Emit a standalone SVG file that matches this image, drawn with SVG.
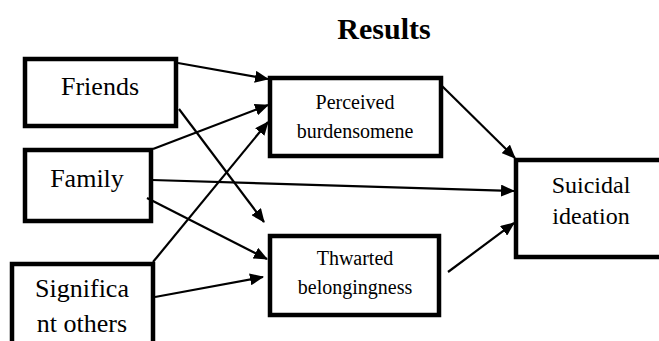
<svg xmlns="http://www.w3.org/2000/svg" width="659" height="341" viewBox="0 0 659 341">
<style>
.box{fill:#fff;stroke:#000;stroke-width:4.5}
.t{font-family:"Liberation Serif","Times New Roman",serif;fill:#000;text-anchor:middle}
.conn line{stroke:#000;stroke-width:2.2;marker-end:url(#ah)}
</style>
<defs>
<marker id="ah" viewBox="0 0 14 12" refX="13" refY="6" markerWidth="14" markerHeight="12" markerUnits="userSpaceOnUse" orient="auto">
<path d="M0,0 L14,6 L0,12 Z" fill="#000"/>
</marker>
</defs>
<rect width="659" height="341" fill="#fff"/>
<text class="t" x="384" y="39" font-size="30" font-weight="bold">Results</text>
<g id="friends"><rect class="box" x="25" y="59" width="151" height="67"/><text class="t" x="100" y="95" font-size="26">Friends</text></g>
<g id="family"><rect class="box" x="25" y="150" width="126" height="71"/><text class="t" x="87" y="187" font-size="26">Family</text></g>
<g id="significant"><rect class="box" x="12" y="264" width="141" height="100"/><text class="t" x="82" y="297" font-size="26">Significa</text><text class="t" x="82" y="332" font-size="26">nt others</text></g>
<g id="perceived"><rect class="box" x="270" y="78" width="171" height="78"/><text class="t" x="355" y="109" font-size="20">Perceived</text><text class="t" x="355" y="138" font-size="20">burdensomene</text></g>
<g id="thwarted"><rect class="box" x="270" y="236" width="169" height="79"/><text class="t" x="355" y="265" font-size="20">Thwarted</text><text class="t" x="355" y="294" font-size="20">belongingness</text></g>
<g id="suicidal"><rect class="box" x="516" y="160" width="160" height="97"/><text class="t" x="591" y="193" font-size="24">Suicidal</text><text class="t" x="591" y="224" font-size="24">ideation</text></g>
<g id="connectors" class="conn">
<line x1="178" y1="63" x2="268" y2="79"/>
<line x1="153" y1="149" x2="268" y2="105"/>
<line x1="153" y1="262" x2="268" y2="122"/>
<line x1="179" y1="109" x2="264" y2="222"/>
<line x1="152" y1="180" x2="514" y2="191"/>
<line x1="147" y1="198" x2="267" y2="259"/>
<line x1="155" y1="297" x2="263" y2="277"/>
<line x1="442" y1="86" x2="515" y2="158"/>
<line x1="448" y1="272" x2="514" y2="223"/>
</g>
</svg>
